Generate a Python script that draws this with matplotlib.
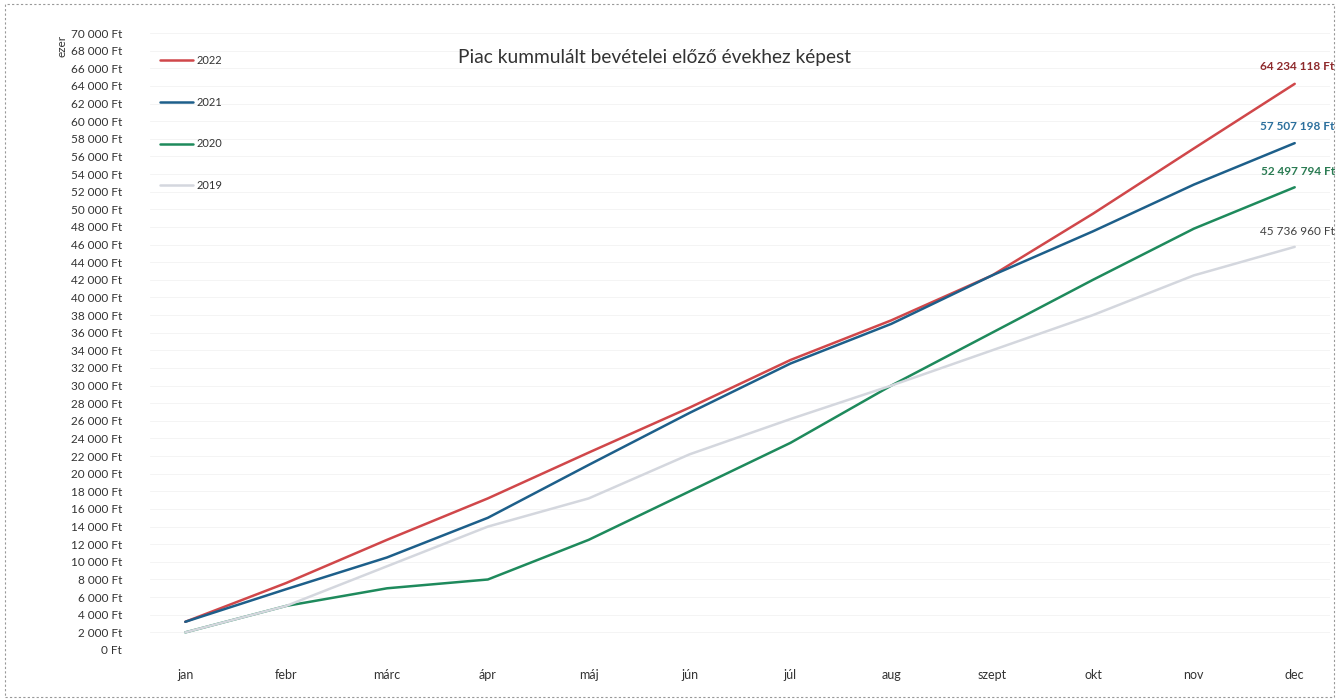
import matplotlib.pyplot as plt
from matplotlib.ticker import FuncFormatter
from matplotlib.patches import Rectangle

months = ['jan', 'febr', 'márc', 'ápr', 'máj', 'jún', 'júl', 'aug', 'szept', 'okt', 'nov', 'dec']

# kumulált bevétel, ezer Ft
rev_2022 = [3200, 7600, 12500, 17200, 22400, 27500, 32900, 37400, 42500, 49500, 56900, 64234]
rev_2021 = [3200, 6900, 10500, 15000, 21000, 26900, 32500, 37000, 42500, 47500, 52800, 57507]
rev_2020 = [2000, 5000, 7000, 8000, 12500, 18000, 23500, 30000, 36000, 42000, 47800, 52498]
rev_2019 = [2000, 5000, 9500, 14000, 17200, 22200, 26200, 30000, 34000, 38000, 42500, 45737]

end_labels = ['64 234 118 Ft', '57 507 198 Ft', '52 497 794 Ft', '45 736 960 Ft']
label_y = [66200, 59400, 54300, 47500]

series = [
    ('2022', rev_2022, '#d0474a', '#8e2a2c', 'bold'),
    ('2021', rev_2021, '#1d5f8a', '#2b6f9c', 'bold'),
    ('2020', rev_2020, '#1e8a5c', '#2a7b52', 'bold'),
    ('2019', rev_2019, '#d4d7de', '#404040', 'normal'),
]

plt.rcParams['font.family'] = ['Lato', 'DejaVu Sans']

fig = plt.figure(figsize=(13.39, 7), dpi=100)
ax = fig.add_axes([150 / 1339, 50 / 700, 1180 / 1339, 617 / 700])

x = list(range(len(months)))
for name, vals, col, lcol, w in series:
    ax.plot(x, vals, color=col, lw=1.8, label=name, solid_capstyle='round')

for (name, vals, col, lcol, w), txt, ly in zip(series, end_labels, label_y):
    ax.text(1.004, ly, txt, transform=ax.get_yaxis_transform(), ha='right', va='center',
            fontsize=8.5, color=lcol, fontweight=w)

ax.set_xlim(-0.35, 11.35)
ax.set_ylim(0, 70000)
ax.set_yticks(range(0, 70001, 2000))
ax.yaxis.set_major_formatter(FuncFormatter(lambda v, p: f'{int(v):,}'.replace(',', ' ') + ' Ft'))
ax.set_xticks(x)
ax.set_xticklabels(months)
ax.tick_params(axis='y', length=0, pad=20, labelsize=8.5, labelcolor='#333333')
ax.tick_params(axis='x', length=0, pad=14, labelsize=9, labelcolor='#333333')
ax.grid(axis='y', color='#f3f3f3', lw=0.6)
ax.set_axisbelow(True)
for s in ax.spines.values():
    s.set_visible(False)

fig.text(62 / 1339, 1 - 46 / 700, 'ezer', rotation=90, fontsize=8.5, color='#333333',
         ha='center', va='center')

handles, labels = ax.get_legend_handles_labels()
ax.legend(handles, labels, loc='upper left', bbox_to_anchor=(0.0, 0.98),
          frameon=False, fontsize=8, handlelength=3.0, labelspacing=2.75,
          handletextpad=0.25, labelcolor='#333333')

fig.text(655 / 1339, 1 - 58 / 700, 'Piac kummulált bevételei előző évekhez képest',
         ha='center', va='center', fontsize=13.8, color='#333333')

fig.patches.append(Rectangle((0.004, 0.004), 0.992, 0.99, transform=fig.transFigure,
                             fill=False, ec='#999999', lw=0.8, ls=(0, (2, 2))))

fig.savefig('out.png', dpi=100)
